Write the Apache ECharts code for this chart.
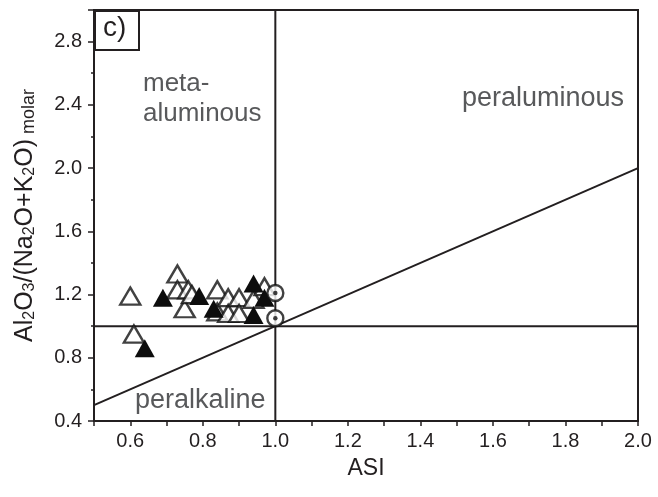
<!DOCTYPE html>
<html>
<head>
<meta charset="utf-8">
<script src="https://cdn.jsdelivr.net/npm/echarts@6/dist/echarts.min.js"></script>
<style>html,body{margin:0;padding:0;background:#fff;}#c{width:658px;height:497px;}</style>
</head>
<body>
<div id="c"></div>
<script>
// ASI vs Al2O3/(Na2O+K2O) molar
const openTriangles = [
  [0.60, 1.19], [0.61, 0.95], [0.73, 1.33], [0.73, 1.23], [0.76, 1.23],
  [0.75, 1.11], [0.77, 1.20], [0.84, 1.23], [0.84, 1.09], [0.87, 1.18],
  [0.87, 1.08], [0.90, 1.18], [0.90, 1.08], [0.94, 1.17], [0.97, 1.25]
];
const filledTriangles = [
  [0.64, 0.86], [0.69, 1.18], [0.79, 1.19], [0.83, 1.11],
  [0.94, 1.07], [0.94, 1.27], [0.97, 1.18]
];
const dottedCircles = [[1.00, 1.21], [1.00, 1.05]];
const verticalDivider = [[1.0, 0.4], [1.0, 3.0]];
const horizontalDivider = [[0.5, 1.0], [2.0, 1.0]];
const diagonalDivider = [[0.5, 0.5], [2.0, 2.0]];
const xRange = [0.5, 2.0];
const yRange = [0.4, 3.0];

const FONT = 'Liberation Sans, Arial, sans-serif';
const INK = '#231f20';
const GREY = '#58595b';

const chart = echarts.init(document.getElementById('c'), null, {renderer: 'canvas'});
const lineStyle = {color: INK, width: 2};

chart.setOption({
  animation: false,
  backgroundColor: '#fff',
  grid: {left: 94, right: 20, top: 10, bottom: 76, show: true, borderColor: INK, borderWidth: 2},
  xAxis: {
    type: 'value', min: xRange[0], max: xRange[1], interval: 0.1,
    name: 'ASI', nameLocation: 'middle', nameGap: 36,
    nameTextStyle: {fontFamily: FONT, fontSize: 23, color: INK},
    axisLine: {lineStyle: {color: INK, width: 2}},
    axisTick: {length: 5, lineStyle: {color: INK, width: 1.5}},
    axisLabel: {
      fontFamily: FONT, fontSize: 20, color: INK, margin: 10, interval: 0,
      formatter: v => (Math.round(v * 10) % 2 === 0 ? v.toFixed(1) : '')
    },
    splitLine: {show: false}
  },
  yAxis: {
    type: 'value', min: yRange[0], max: yRange[1], interval: 0.4,
    name: '{m|Al}{s|2}{m|O}{s|3}{m|/(Na}{s|2}{m|O+K}{s|2}{m|O)}{r| molar}',
    nameLocation: 'middle', nameGap: 56,
    nameTextStyle: {
      fontFamily: FONT, color: INK,
      rich: {
        m: {fontFamily: FONT, fontSize: 25, color: INK, lineHeight: 30, verticalAlign: 'bottom'},
        s: {fontFamily: FONT, fontSize: 16, color: INK, lineHeight: 22, verticalAlign: 'bottom'},
        r: {fontFamily: FONT, fontSize: 18, color: INK, lineHeight: 30, verticalAlign: 'bottom'}
      }
    },
    axisLine: {lineStyle: {color: INK, width: 2}},
    axisTick: {length: 6, lineStyle: {color: INK, width: 1.5}},
    minorTick: {show: true, splitNumber: 2, length: 3, lineStyle: {color: INK, width: 1.5}},
    axisLabel: {
      fontFamily: FONT, fontSize: 20, color: INK, margin: 12, showMaxLabel: false,
      formatter: v => v.toFixed(1)
    },
    splitLine: {show: false}
  },
  graphic: [
    {type: 'rect', left: 94, top: 10, shape: {width: 44, height: 39}, style: {fill: '#fff', stroke: INK, lineWidth: 2}, z: 100},
    {type: 'text', left: 103, top: 14, style: {text: 'c)', font: '28px ' + FONT, fill: INK}, z: 101},
    {type: 'text', left: 143, top: 69, style: {text: 'meta-\naluminous', font: '26px ' + FONT, fill: GREY, lineHeight: 30}, z: 101},
    {type: 'text', left: 462, top: 85, style: {text: 'peraluminous', font: '27px ' + FONT, fill: GREY}, z: 101},
    {type: 'text', left: 135, top: 387, style: {text: 'peralkaline', font: '27px ' + FONT, fill: GREY}, z: 101}
  ],
  series: [
    {type: 'line', data: verticalDivider, symbol: 'none', lineStyle: lineStyle, silent: true},
    {type: 'line', data: horizontalDivider, symbol: 'none', lineStyle: lineStyle, silent: true},
    {type: 'line', data: diagonalDivider, symbol: 'none', lineStyle: lineStyle, silent: true},
    {type: 'scatter', data: openTriangles, symbol: 'triangle', symbolSize: [20, 17],
     itemStyle: {color: '#fff', borderColor: '#111', borderWidth: 2.4}, z: 3},
    {type: 'scatter', data: filledTriangles, symbol: 'triangle', symbolSize: [20, 18],
     itemStyle: {color: '#0d0d0d', opacity: 1}, z: 4},
    {type: 'scatter', data: dottedCircles, symbol: 'circle', symbolSize: 16,
     itemStyle: {color: '#fff', borderColor: '#111', borderWidth: 2.4}, z: 5},
    {type: 'scatter', data: dottedCircles, symbol: 'circle', symbolSize: 4.5,
     itemStyle: {color: '#111'}, z: 6}
  ]
});
</script>
</body>
</html>
